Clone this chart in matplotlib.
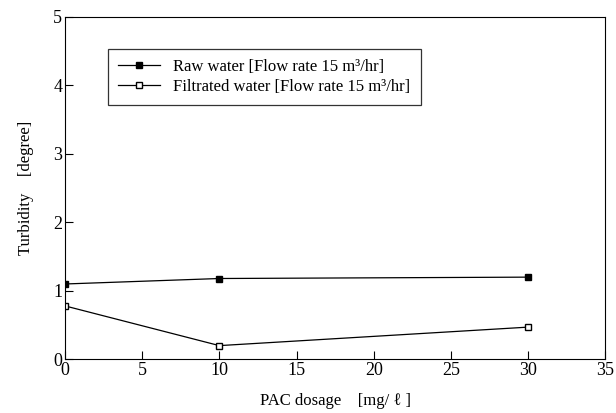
import matplotlib
matplotlib.use("Agg")
import matplotlib.pyplot as plt

plt.rcParams['font.family'] = ['Liberation Serif', 'DejaVu Serif']

pac_dosage = [0, 10, 30]
raw_water = [1.1, 1.18, 1.2]
filtrated_water = [0.78, 0.2, 0.47]

fig = plt.figure(figsize=(6.16, 4.13), dpi=100)
ax = fig.add_axes([0.1055, 0.13, 0.877, 0.829])

ax.plot(pac_dosage, raw_water, color='black', linewidth=0.9, marker='s',
        markersize=5, markerfacecolor='black', markeredgecolor='black',
        label='Raw water [Flow rate 15 m³/hr]')
ax.plot(pac_dosage, filtrated_water, color='black', linewidth=0.9, marker='s',
        markersize=5, markerfacecolor='white', markeredgecolor='black',
        label='Filtrated water [Flow rate 15 m³/hr]')

ax.set_xlim(0, 35)
ax.set_ylim(0, 5)
ax.set_xticks([0, 5, 10, 15, 20, 25, 30, 35])
ax.set_yticks([0, 1, 2, 3, 4, 5])
ax.tick_params(direction='in', length=6, labelsize=13, width=0.8, pad=2)

ax.set_xlabel('PAC dosage    [mg/ ℓ ]', fontsize=12, labelpad=10)
ax.set_ylabel('Turbidity    [degree]', fontsize=12, labelpad=14)

leg = ax.legend(loc='upper left', bbox_to_anchor=(0.065, 0.93), fontsize=12,
                frameon=True, fancybox=False, edgecolor='black',
                handlelength=2.5, borderpad=0.6, labelspacing=0.2)
leg.get_frame().set_linewidth(0.9)

fig.savefig('out.png', dpi=100)
